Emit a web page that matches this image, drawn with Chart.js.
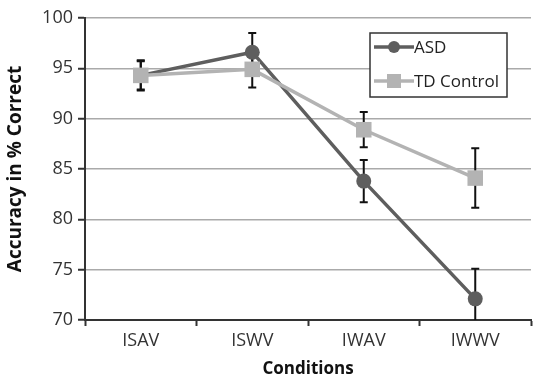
<!DOCTYPE html>
<html>
<head>
<meta charset="utf-8">
<script src="https://cdn.jsdelivr.net/npm/chart.js@4/dist/chart.umd.min.js"></script>
<style>
  html, body { margin: 0; padding: 0; background: #fff; overflow: hidden; }
  #wrap { width: 542px; height: 383px; }
</style>
</head>
<body>
<div id="wrap"><canvas id="chart"></canvas></div>
<script>
// values
const conditions = ['ISAV', 'ISWV', 'IWAV', 'IWWV'];
const asdMeans = [94.3, 96.6, 83.8, 72.1];
const asdErrors = [1.5, 1.9, 2.1, 3.0];
const tdMeans = [94.3, 94.9, 88.9, 84.1];
const tdErrors = [1.4, 1.8, 1.75, 2.95];
const yMin = 70, yMax = 100, yStep = 5;

const asdColor = '#5e5e5e';
const tdColor = '#b3b3b3';
const fontFamily = '"Open Sans", sans-serif';

// draws +/- error bars with caps for each dataset
const errorBars = {
  id: 'errorBars',
  beforeDatasetsDraw(chart) {
    const ctx = chart.ctx;
    const area = chart.chartArea;
    const yScale = chart.scales.y;
    ctx.save();
    ctx.beginPath();
    ctx.rect(area.left, area.top - 10, area.right - area.left, area.bottom - area.top + 10);
    ctx.clip();
    ctx.strokeStyle = '#111';
    ctx.lineWidth = 2;
    chart.data.datasets.forEach((ds, i) => {
      const meta = chart.getDatasetMeta(i);
      meta.data.forEach((pt, j) => {
        const err = ds.errors[j];
        const yTop = yScale.getPixelForValue(ds.data[j] + err);
        const yBot = yScale.getPixelForValue(ds.data[j] - err);
        const x = pt.x;
        ctx.beginPath();
        ctx.moveTo(x, yTop); ctx.lineTo(x, yBot);
        ctx.moveTo(x - 4, yTop); ctx.lineTo(x + 4, yTop);
        ctx.moveTo(x - 4, yBot); ctx.lineTo(x + 4, yBot);
        ctx.stroke();
      });
    });
    ctx.restore();
  }
};

// boxed legend like the original
const boxLegend = {
  id: 'boxLegend',
  afterDraw(chart) {
    const ctx = chart.ctx;
    const x = 370, y = 33, w = 137, h = 64;
    ctx.save();
    ctx.fillStyle = '#fff';
    ctx.fillRect(x, y, w, h);
    ctx.strokeStyle = '#333';
    ctx.lineWidth = 1.5;
    ctx.strokeRect(x, y, w, h);
    const items = [
      { label: 'ASD', color: asdColor, style: 'circle', cy: 47 },
      { label: 'TD Control', color: tdColor, style: 'rect', cy: 81 }
    ];
    items.forEach(it => {
      ctx.strokeStyle = it.color;
      ctx.lineWidth = 3.5;
      ctx.beginPath();
      ctx.moveTo(374, it.cy); ctx.lineTo(414, it.cy);
      ctx.stroke();
      ctx.fillStyle = it.color;
      if (it.style === 'circle') {
        ctx.beginPath();
        ctx.arc(394, it.cy, 6, 0, Math.PI * 2);
        ctx.fill();
      } else {
        ctx.fillRect(387, it.cy - 7, 14, 14);
      }
      ctx.fillStyle = '#222';
      ctx.font = '17px ' + fontFamily;
      ctx.textBaseline = 'middle';
      ctx.fillText(it.label, 414, it.cy + 1);
    });
    ctx.restore();
  }
};

new Chart(document.getElementById('chart').getContext('2d'), {
  type: 'line',
  data: {
    labels: conditions,
    datasets: [
      {
        label: 'ASD',
        data: asdMeans,
        errors: asdErrors,
        borderColor: asdColor,
        backgroundColor: asdColor,
        borderWidth: 3.5,
        pointStyle: 'circle',
        pointRadius: 7.5,
        pointBorderWidth: 0,
        order: 2
      },
      {
        label: 'TD Control',
        data: tdMeans,
        errors: tdErrors,
        borderColor: tdColor,
        backgroundColor: tdColor,
        borderWidth: 3.5,
        pointStyle: 'rect',
        pointRadius: 11,
        pointBorderWidth: 0,
        order: 1
      }
    ]
  },
  options: {
    responsive: true,
    maintainAspectRatio: false,
    animation: false,
    layout: { padding: { top: 18, right: 1, left: 0, bottom: 0 } },
    plugins: {
      legend: { display: false },
      tooltip: { enabled: false }
    },
    scales: {
      x: {
        offset: true,
        grid: {
          offset: true,
          drawOnChartArea: false,
          drawTicks: true,
          tickLength: 6,
          tickWidth: 2,
          tickColor: '#333'
        },
        border: { color: '#333', width: 2 },
        ticks: { color: '#333', font: { family: fontFamily, size: 18 }, padding: 4 },
        title: {
          display: true,
          text: 'Conditions',
          color: '#111',
          font: { family: fontFamily, size: 17, weight: 'bold' },
          padding: { top: 2 }
        },
        afterFit(scale) { scale.height = 63; }
      },
      y: {
        min: yMin,
        max: yMax,
        ticks: {
          stepSize: yStep,
          color: '#333',
          font: { family: fontFamily, size: 18 },
          padding: 5
        },
        grid: {
          color: '#aaa',
          lineWidth: 1.5,
          tickLength: 7,
          tickColor: '#333',
          tickWidth: 2
        },
        border: { color: '#333', width: 2 },
        title: {
          display: true,
          text: 'Accuracy in % Correct',
          color: '#111',
          font: { family: fontFamily, size: 19, weight: 'bold' },
          padding: { bottom: 6 }
        },
        afterFit(scale) { scale.width = 85; }
      }
    }
  },
  plugins: [errorBars, boxLegend]
});
</script>
</body>
</html>
